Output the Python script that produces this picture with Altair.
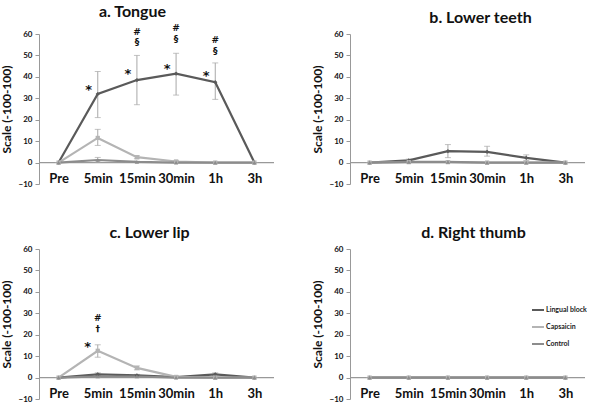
import altair as alt
import pandas as pd

times = ["Pre", "5min", "15min", "30min", "1h", "3h"]
series = ["Lingual block", "Capsaicin", "Control"]

# a. Tongue
a_lingual = [0, 32, 38.5, 41.5, 37.5, 0]
a_lingual_lo = [0, 21, 27, 31.5, 29.5, 0]
a_lingual_hi = [0, 42.5, 50, 51, 46.5, 0]
a_caps = [0, 11.5, 2.5, 0.5, 0, 0]
a_caps_lo = [0, 8, 1.8, 0, 0, 0]
a_caps_hi = [0, 15.5, 3.2, 1, 0, 0]
a_ctrl = [0, 1.2, 0.3, 0, 0, 0]
a_ctrl_lo = [0, 0.2, 0, 0, 0, 0]
a_ctrl_hi = [0, 2.4, 0.6, 0, 0, 0]

# b. Lower teeth
b_lingual = [0, 1, 5.3, 5, 2.2, 0]
b_lingual_lo = [0, 0.4, 2.3, 3, 1, 0]
b_lingual_hi = [0, 1.6, 8.4, 7.6, 3.6, 0]
b_caps = [0, 0.2, 0.2, 0, 0, 0]
b_caps_lo = [0, 0, 0, 0, 0, 0]
b_caps_hi = [0, 0.5, 0.5, 0, 0, 0]
b_ctrl = [0, 0.3, 0.3, 0, 0, 0]
b_ctrl_lo = [0, 0, 0, 0, 0, 0]
b_ctrl_hi = [0, 0.6, 0.6, 0, 0, 0]

# c. Lower lip
c_lingual = [0, 1.5, 1, 0.2, 1.5, 0]
c_lingual_lo = [0, 0.8, 0.5, 0, 0.8, 0]
c_lingual_hi = [0, 2.2, 1.5, 0.5, 2.2, 0]
c_caps = [0, 12.5, 4.5, 0.3, 0, 0]
c_caps_lo = [0, 9.5, 3.6, 0, 0, 0]
c_caps_hi = [0, 15.3, 5.4, 0.8, 0, 0]
c_ctrl = [0, 0.5, 0.5, 0, 0, 0]
c_ctrl_lo = [0, 0, 0, 0, 0, 0]
c_ctrl_hi = [0, 1, 1, 0, 0, 0]

# d. Right thumb
d_lingual = [0, 0, 0, 0, 0, 0]
d_caps = [0, 0, 0, 0, 0, 0]
d_ctrl = [0, 0, 0, 0, 0, 0]

# annotations: (time, y, text)
a_star_t = ["5min", "15min", "30min", "1h"]
a_star_y = [34, 41.3, 43.7, 40.5]
a_hash_t = ["15min", "30min", "1h"]
a_hash_y = [61, 62.7, 57]
a_sect_y = [56.4, 57.5, 52]
c_star_t = ["5min"]
c_star_y = [14.5]
c_hash_t = ["5min"]
c_hash_y = [28]
c_dagger_y = [22.5]

colors = ["#5a5a5a", "#b4b4b4", "#8c8c8c"]
shapes = ["diamond", "square", "triangle-up"]
FONT = "Lato"


def make_df(vals, los, his):
    rows = []
    for s, v, lo, hi in zip(series, vals, los, his):
        for i, t in enumerate(times):
            rows.append({"time": t, "series": s, "value": v[i], "lo": lo[i], "hi": hi[i]})
    return pd.DataFrame(rows)


def panel(title, dx, df, ann_df=None, legend=False):
    x = alt.X("time:N", sort=times, scale=alt.Scale(type="point", domain=times, padding=0.5),
              axis=alt.Axis(orient="bottom", domain=False, ticks=False, labelAngle=0,
                            labelPadding=-6, labelBaseline="middle", labelFontSize=13,
                            labelFontWeight="bold", labelFont=FONT, labelColor="#111", title=None))
    yscale = alt.Scale(domain=[-10, 60], nice=False, zero=False)
    yaxis = alt.Axis(values=list(range(-10, 61, 10)), grid=False, tickSize=4, domainColor="#999",
                     tickColor="#999", labelFontSize=8, labelFontWeight="bold", labelFont=FONT,
                     labelColor="#111", labelPadding=3, title="Scale (-100-100)", titleFontSize=12,
                     titleFontWeight="bold", titleFont=FONT, titleColor="#111", titlePadding=5)
    color = alt.Color("series:N", scale=alt.Scale(domain=series, range=colors),
                      legend=alt.Legend(orient="none", legendX=181, legendY=54, title=None,
                                        symbolType="stroke", symbolSize=144, symbolStrokeWidth=2,
                                        labelFontSize=7, labelFont=FONT, labelFontWeight="bold",
                                        labelColor="#222", rowPadding=6, labelOffset=1,
                                        symbolLimit=0) if legend else None)
    base = alt.Chart(df)
    zero = alt.Chart(pd.DataFrame({"y": [0]})).mark_rule(color="#999", strokeWidth=1.2).encode(
        y=alt.Y("y:Q", scale=yscale, axis=yaxis))
    err = base.mark_errorbar(ticks={"size": 6}, color="#a8a8a8", thickness=1).encode(
        x=x, y=alt.Y("lo:Q", scale=yscale, axis=yaxis), y2="hi:Q")
    line = base.mark_line(strokeWidth=2.2).encode(
        x=x, y=alt.Y("value:Q", scale=yscale, axis=yaxis), color=color)
    layers = [zero, err, line]
    for s, c, sh in zip(series, colors, shapes):
        layers.append(base.transform_filter(alt.datum.series == s).mark_point(
            filled=True, size=18, opacity=1, color=c, shape=sh).encode(
            x=x, y=alt.Y("value:Q", scale=yscale, axis=yaxis)))
    if ann_df is not None:
        for (dxx, fs), sub in ann_df.groupby(["dx", "fs"]):
            layers.append(alt.Chart(sub).mark_text(dx=dxx, fontSize=fs, fontWeight="bold",
                                                   font="DejaVu Sans", color="#111").encode(
                x=x, y=alt.Y("y:Q", scale=yscale, axis=yaxis), text="text:N"))
    return alt.layer(*layers).properties(
        width=235, height=150,
        title=alt.TitleParams(title, fontSize=16, fontWeight="bold", font=FONT, color="#111",
                              anchor="middle", dx=dx, offset=4))


def ann(tlist, ylist, text, dx, fs):
    return pd.DataFrame({"time": tlist, "y": ylist, "text": [text] * len(tlist),
                         "dx": [dx] * len(tlist), "fs": [fs] * len(tlist)})


ann_a = pd.concat([ann(a_star_t, a_star_y, "*", -9, 13),
                   ann(a_hash_t, a_hash_y, "#", 0, 9),
                   ann(a_hash_t, a_sect_y, "§", 0, 9)])
ann_c = pd.concat([ann(c_star_t, c_star_y, "*", -10, 13),
                   ann(c_hash_t, c_hash_y, "#", 0, 9),
                   ann(c_hash_t, c_dagger_y, "†", 0, 9)])

zeros = [0] * 6
pa = panel("a. Tongue", -24, make_df([a_lingual, a_caps, a_ctrl],
                                     [a_lingual_lo, a_caps_lo, a_ctrl_lo],
                                     [a_lingual_hi, a_caps_hi, a_ctrl_hi]), ann_a)
pb = panel("b. Lower teeth", 13, make_df([b_lingual, b_caps, b_ctrl],
                                         [b_lingual_lo, b_caps_lo, b_ctrl_lo],
                                         [b_lingual_hi, b_caps_hi, b_ctrl_hi]))
pc = panel("c. Lower lip", -7, make_df([c_lingual, c_caps, c_ctrl],
                                       [c_lingual_lo, c_caps_lo, c_ctrl_lo],
                                       [c_lingual_hi, c_caps_hi, c_ctrl_hi]), ann_c)
pd_ = panel("d. Right thumb", 6, make_df([d_lingual, d_caps, d_ctrl],
                                         [zeros, zeros, zeros], [zeros, zeros, zeros]),
            legend=True)

chart = alt.concat(pa, pb, pc, pd_, columns=2, spacing={"row": 65, "column": 76},
                   bounds="flush").resolve_scale(color="independent").properties(
    padding={"left": 0, "top": 4, "right": 0, "bottom": 0}, background="white"
).configure_view(stroke=None)

chart.save("out.html", embed_options={"renderer": "svg", "actions": False})
